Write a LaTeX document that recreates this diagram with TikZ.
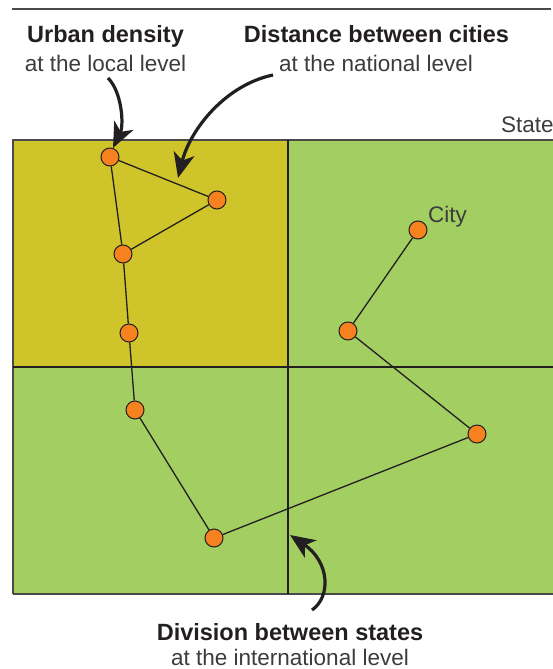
\documentclass[tikz,border=0pt]{standalone}
\usepackage{fontspec}
\setmainfont{Liberation Sans}
\usetikzlibrary{arrows.meta}
\definecolor{olivefill}{HTML}{CFC42A}
\definecolor{greenfill}{HTML}{A3CF62}
\definecolor{cityfill}{HTML}{F5821F}
\definecolor{inkdark}{HTML}{231F20}
\definecolor{textgray}{HTML}{3C3C3C}
\definecolor{framegray}{HTML}{4A4A4A}
\tikzset{
  city/.style={circle, minimum size=18pt, inner sep=0pt, fill=cityfill, draw=inkdark, line width=1pt},
  road/.style={draw=inkdark, line width=1.3pt},
  divider/.style={draw=inkdark, line width=2pt},
  pointer/.style={draw=inkdark, line width=3.2pt, -{Stealth[length=25pt,width=21pt,inset=7pt]}},
  headtext/.style={anchor=base, inner sep=0pt, text=inkdark, font=\fontsize{23.5}{27}\selectfont\bfseries},
  subtext/.style={anchor=base, inner sep=0pt, text=textgray, font=\fontsize{22.5}{26}\selectfont},
}
\begin{document}
\begin{tikzpicture}[x=1pt,y=-1pt]
\useasboundingbox (0,0) rectangle (553,669);
% top rule
\draw[framegray, line width=1.5pt] (12,9) -- (551,9);
% states
\fill[olivefill] (13,140) rectangle (288,367);
\fill[greenfill] (288,140) rectangle (560,367);
\fill[greenfill] (13,367) rectangle (560,594);
\draw[framegray, line width=1.3pt] (560,140) -- (13,140) -- (13,594);
\draw[framegray, line width=2.5pt] (13,594) -- (560,594);
\draw[divider] (288,140) -- (288,594);
\draw[divider] (13,367) -- (560,367);
% cities
\node[city] (c1) at (110,157) {};
\node[city] (c2) at (217,200) {};
\node[city] (c3) at (123,254) {};
\node[city] (c4) at (129,333) {};
\node[city] (c5) at (135,410) {};
\node[city] (c6) at (214,538) {};
\node[city] (c7) at (477,434) {};
\node[city] (c8) at (348,331) {};
\node[city] (c9) at (418,230) {};
\draw[road] (c1) -- (c2);
\draw[road] (c2) -- (c3);
\draw[road] (c1) -- (c3);
\draw[road] (c3) -- (c4);
\draw[road] (c4) -- (c5);
\draw[road] (c5) -- (c6);
\draw[road] (c6) -- (c7);
\draw[road] (c7) -- (c8);
\draw[road] (c8) -- (c9);
% labels
\node[subtext, anchor=base west] (state) at (501,132) {State};
\node[subtext, anchor=base west] (citylabel) at (428,222) {City};
\node[headtext] (h1) at (105.5,43) {Urban density};
\node[subtext] (s1) at (105.5,71) {at the local level};
\node[headtext] (h2) at (376.5,43) {Distance between cities};
\node[subtext] (s2) at (376,71) {at the national level};
\node[headtext] (h3) at (290,640) {Division between states};
\node[subtext] (s3) at (290,665) {at the international level};
% pointers
\coordinate (a1s) at (108,78);
\coordinate (a1e) at (113,148);
\coordinate (a2s) at (273,75);
\coordinate (a2e) at (178,178);
\coordinate (a3s) at (312,610);
\coordinate (a3e) at (290,535);
\draw[pointer] (a1s) .. controls (122,92) and (124,125) .. (a1e);
\draw[pointer] (a2s) .. controls (225,85) and (190,130) .. (a2e);
\draw[pointer] (a3s) .. controls (331,597) and (330,562) .. (a3e);
\end{tikzpicture}
\end{document}
